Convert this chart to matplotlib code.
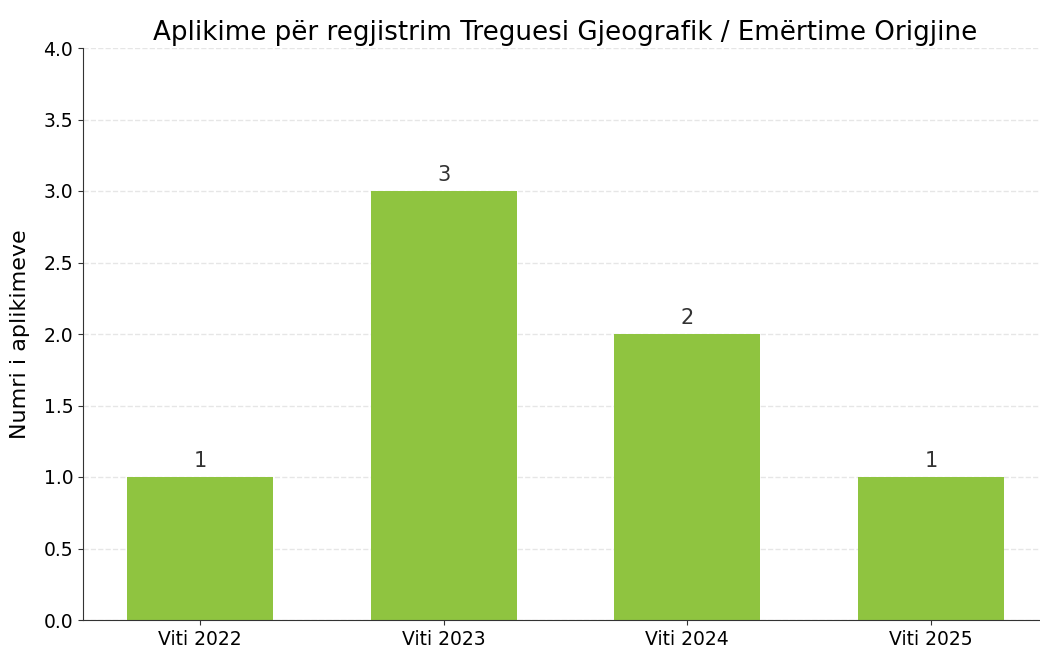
import matplotlib
matplotlib.use("Agg")
import matplotlib.pyplot as plt

categories = ["Viti 2022", "Viti 2023", "Viti 2024", "Viti 2025"]
values = [1, 3, 2, 1]

fig = plt.figure(figsize=(10.4, 6.5), dpi=100)
ax = fig.add_axes([83 / 1040, 30 / 650, (1048 - 83) / 1040, 572 / 650])
bars = ax.bar(categories, values, width=0.6, color="#8FC440", zorder=2)
for b, v in zip(bars, values):
    ax.text(b.get_x() + b.get_width() / 2, v + 0.04, str(v), ha="center", va="bottom",
            fontsize=15, color="#333333")

ax.set_ylim(0, 4.0)
ax.set_yticks([0, 0.5, 1.0, 1.5, 2.0, 2.5, 3.0, 3.5, 4.0])
ax.yaxis.grid(True, linestyle="--", color="#e6e6e6", linewidth=1, zorder=0)
ax.set_axisbelow(True)
ax.spines["top"].set_visible(False)
ax.spines["right"].set_visible(False)
for s in ("left", "bottom"):
    ax.spines[s].set_color("#333333")
ax.tick_params(labelsize=13.5, color="#333333")
ax.set_ylabel("Numri i aplikimeve", fontsize=16, labelpad=10)
ax.set_title("Aplikime për regjistrim Treguesi Gjeografik / Emërtime Origjine", fontsize=18.8,
             x=(565 - 83) / (1048 - 83))

fig.savefig("out.png", dpi=100)
